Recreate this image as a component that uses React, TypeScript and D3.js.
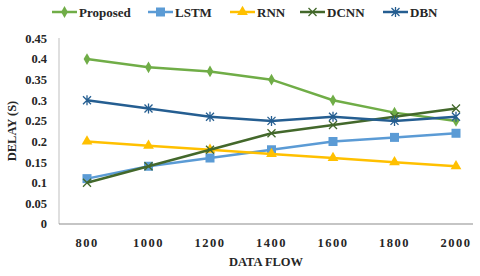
import React, { useEffect, useRef } from 'react';
import * as d3 from 'd3';

const categories = ['800', '1000', '1200', '1400', '1600', '1800', '2000'];
const seriesNames = ['Proposed', 'LSTM', 'RNN', 'DCNN', 'DBN'];
const proposed = [0.4, 0.38, 0.37, 0.35, 0.3, 0.27, 0.25];
const lstm = [0.11, 0.14, 0.16, 0.18, 0.2, 0.21, 0.22];
const rnn = [0.2, 0.19, 0.18, 0.17, 0.16, 0.15, 0.14];
const dcnn = [0.1, 0.14, 0.18, 0.22, 0.24, 0.26, 0.28];
const dbn = [0.3, 0.28, 0.26, 0.25, 0.26, 0.25, 0.26];
const yTicks = [0, 0.05, 0.1, 0.15, 0.2, 0.25, 0.3, 0.35, 0.4, 0.45];

const colors = ['#70AD47', '#5B9BD5', '#FFC000', '#43682B', '#255E91'];
const symbols = ['diamond', 'square', 'triangle', 'x', 'star'];
const legendX = [52, 148, 230, 300, 383];

const font = '"Liberation Serif", "Times New Roman", serif';

function drawMarker(g: any, type: string, x: number, y: number, color: string) {
    if (type === 'diamond') {
        g.append('path').attr('d', d3.symbol(d3.symbolDiamond, 40)())
            .attr('transform', `translate(${x},${y})`).attr('fill', color);
    } else if (type === 'square') {
        g.append('rect').attr('x', x - 4.5).attr('y', y - 4.5).attr('width', 9).attr('height', 9)
            .attr('fill', color);
    } else if (type === 'triangle') {
        g.append('path').attr('d', d3.symbol(d3.symbolTriangle, 50)())
            .attr('transform', `translate(${x},${y})`).attr('fill', color);
    } else if (type === 'x') {
        g.append('path').attr('d', `M${x - 4},${y - 4}L${x + 4},${y + 4}M${x - 4},${y + 4}L${x + 4},${y - 4}`)
            .attr('stroke', color).attr('stroke-width', 1.3);
    } else {
        g.append('path').attr('d', `M${x - 4},${y - 4}L${x + 4},${y + 4}M${x - 4},${y + 4}L${x + 4},${y - 4}M${x},${y - 5}L${x},${y + 5}`)
            .attr('stroke', color).attr('stroke-width', 1.3);
    }
}

export default function App() {
    const ref = useRef<SVGSVGElement>(null);

    useEffect(() => {
        const svg = d3.select(ref.current);
        svg.selectAll('*').remove();
        const data = [proposed, lstm, rnn, dcnn, dbn];

        const x = d3.scalePoint().domain(categories).range([87, 456]);
        const y = d3.scaleLinear().domain([0, 0.45]).range([224, 38.4]);

        // axes
        svg.append('line').attr('x1', 59).attr('x2', 59).attr('y1', 38).attr('y2', 224)
            .attr('stroke', '#bfbfbf');
        svg.append('line').attr('x1', 59).attr('x2', 473).attr('y1', 224).attr('y2', 224)
            .attr('stroke', '#8c8c8c').attr('stroke-width', 1.2);

        svg.append('g').selectAll('text').data(yTicks).enter().append('text')
            .attr('x', 47).attr('y', (d) => y(d)).attr('dy', '0.35em')
            .attr('text-anchor', 'end').attr('font-family', font).attr('font-weight', 'bold')
            .attr('font-size', 12.5).attr('fill', '#262626')
            .text((d) => String(d));

        svg.append('g').selectAll('text').data(categories).enter().append('text')
            .attr('x', (d) => x(d) as number).attr('y', 247)
            .attr('text-anchor', 'middle').attr('font-family', font).attr('font-weight', 'bold')
            .attr('font-size', 12.5).attr('letter-spacing', 1.5).attr('fill', '#262626')
            .text((d) => d);

        svg.append('text').attr('x', 266).attr('y', 266).attr('text-anchor', 'middle')
            .attr('font-family', font).attr('font-weight', 'bold').attr('font-size', 12.5)
            .attr('fill', '#262626').text('DATA FLOW');

        svg.append('text').attr('transform', 'translate(16,131) rotate(-90)').attr('text-anchor', 'middle')
            .attr('font-family', font).attr('font-weight', 'bold').attr('font-size', 12.5)
            .attr('fill', '#262626').text('DELAY (S)');

        // series
        const line = d3.line<number>().x((d, i) => x(categories[i]) as number).y((d) => y(d));
        data.forEach((vals, s) => {
            const g = svg.append('g');
            g.append('path').attr('d', line(vals)).attr('fill', 'none')
                .attr('stroke', colors[s]).attr('stroke-width', 2.5);
            vals.forEach((v, i) => drawMarker(g, symbols[s], x(categories[i]) as number, y(v), colors[s]));
        });

        // legend
        seriesNames.forEach((name, s) => {
            const g = svg.append('g');
            const lx = legendX[s];
            g.append('line').attr('x1', lx).attr('x2', lx + 25).attr('y1', 12).attr('y2', 12)
                .attr('stroke', colors[s]).attr('stroke-width', 2.5);
            drawMarker(g, symbols[s], lx + 12.5, 12, colors[s]);
            g.append('text').attr('x', lx + 27).attr('y', 12).attr('dy', '0.35em')
                .attr('font-family', font).attr('font-weight', 'bold').attr('font-size', 13)
                .attr('fill', '#262626').text(name);
        });
    }, []);

    return (
        <svg ref={ref} width={480} height={276}
             style={{ position: 'absolute', left: 0, top: 0, background: '#fff' }} />
    );
}
